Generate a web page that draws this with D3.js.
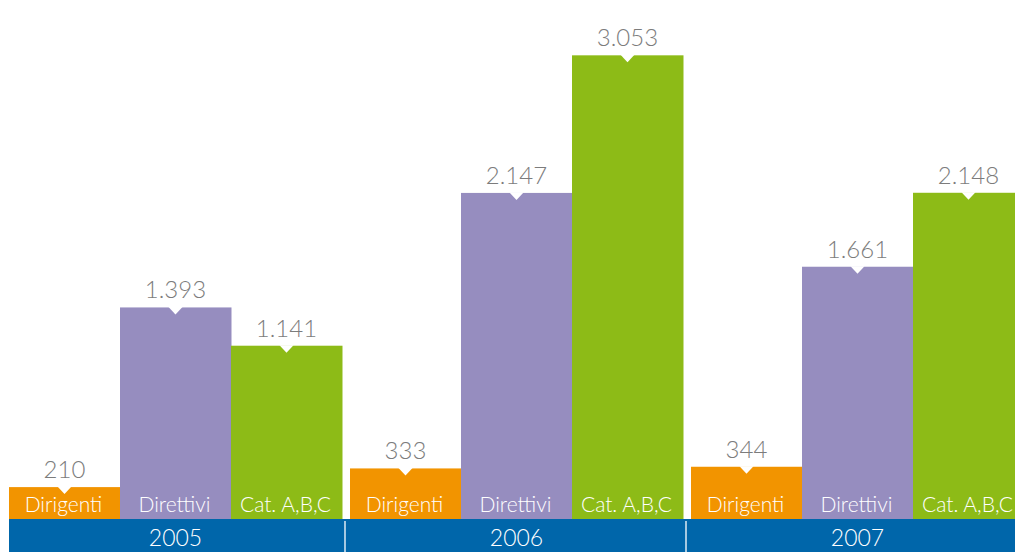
<!DOCTYPE html>
<html><head><meta charset="utf-8">
<script src="https://cdn.jsdelivr.net/npm/d3@7"></script>
<style>
html,body{margin:0;padding:0;background:#fff;}
svg{display:block;}
text{font-family:"Lato","Open Sans",sans-serif;}
</style></head>
<body><svg id="c" width="1015" height="552"></svg>
<script>
const years = ["2005","2006","2007"];
const categories = ["Dirigenti","Direttivi","Cat. A,B,C"];
const dirigenti = [210, 333, 344];
const direttivi = [1393, 2147, 1661];
const catABC = [1141, 3053, 2148];
const colors = ["#F29400","#968DBF","#8DBB17"];

const W = 1015, H = 552;
const svg = d3.select("#c");
const bandTop = 519;

const x0 = d3.scaleBand().domain(years).range([9, 1024]).paddingInner(0.0235).paddingOuter(0);
const x1 = d3.scaleBand().domain(categories).range([0, x0.bandwidth()]).padding(0);
const y = d3.scaleLinear().domain([0, 3200]).range([bandTop, 33]);

const loc = d3.formatLocale({decimal:",", thousands:".", grouping:[3], currency:["€",""]});
const fmt = loc.format(",d");

const seriesVals = [dirigenti, direttivi, catABC];
const data = [];
years.forEach((yr, i) => categories.forEach((c, j) => data.push({year: yr, cat: c, value: seriesVals[j][i], ci: j})));

const g = svg.append("g");
const bars = g.selectAll("g.bar").data(data).join("g").attr("class","bar")
  .attr("transform", d => `translate(${x0(d.year) + x1(d.cat)},0)`);
const bw = x1.bandwidth();

bars.append("rect")
  .attr("x", 0).attr("width", bw + 0.5)
  .attr("y", d => y(d.value)).attr("height", d => bandTop - y(d.value))
  .attr("fill", d => colors[d.ci]);

// white notch
bars.append("path")
  .attr("d", d => { const t = y(d.value), c = bw/2; return `M${c-7},${t-0.5}L${c+7},${t-0.5}L${c},${t+7}Z`; })
  .attr("fill", "#fff");

bars.append("text")
  .attr("x", bw/2).attr("y", d => y(d.value) - 9)
  .attr("text-anchor","middle").attr("fill","#7c7c7c")
  .attr("font-size", 24).attr("font-weight", 300)
  .text(d => fmt(d.value));

bars.append("text")
  .attr("x", bw/2 - 1).attr("y", 512)
  .attr("text-anchor","middle").attr("fill","#fff")
  .attr("font-size", 21).attr("font-weight", 300)
  .text(d => d.cat);

// bottom band
svg.append("rect").attr("x", 9).attr("y", bandTop).attr("width", W - 9).attr("height", H - bandTop).attr("fill", "#0066AA");
const step = x0.step();
years.slice(1).forEach(yr => {
  const sx = x0(yr) - (step - x0.bandwidth())/2 - 1;
  svg.append("line").attr("x1", sx).attr("x2", sx).attr("y1", bandTop + 2).attr("y2", H)
    .attr("stroke", "#fff").attr("stroke-width", 1.3);
});
svg.selectAll("text.year").data(years).join("text").attr("class","year")
  .attr("x", d => x0(d) + x0.bandwidth()/2).attr("y", 546)
  .attr("text-anchor","middle").attr("fill","#fff")
  .attr("font-size", 23).attr("font-weight", 300)
  .text(d => d);
</script></body></html>
